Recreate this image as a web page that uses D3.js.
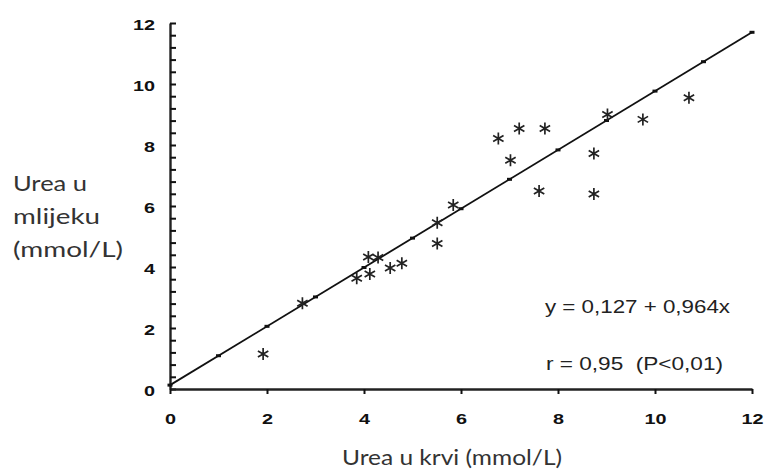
<!DOCTYPE html>
<html>
<head>
<meta charset="utf-8">
<script src="https://cdn.jsdelivr.net/npm/d3@7"></script>
<style>
  body { margin: 0; background: #fff; }
  svg { display: block; }
</style>
</head>
<body>
<div id="chart"></div>
<script>
// measured points: blood urea (x) vs milk urea (y), mmol/L
const bloodUrea = [1.92, 2.73, 3.85, 4.09, 4.12, 4.29, 4.54, 4.78, 5.51, 5.51, 5.84, 6.77, 7.02, 7.20, 7.61, 7.73, 8.74, 8.74, 9.02, 9.75, 10.70];
const milkUrea  = [1.15, 2.81, 3.63, 4.33, 3.77, 4.31, 3.97, 4.12, 5.45, 4.77, 6.03, 8.21, 7.50, 8.54, 6.49, 8.54, 7.72, 6.39, 9.00, 8.84, 9.55];

// regression y = a + b*x, with a small mark at each whole unit
const intercept = 0.127;
const slope = 0.964;
const lineMarksX = [0, 1, 2, 3, 4, 5, 6, 7, 8, 9, 10, 11, 12];

const xTicks = [0, 2, 4, 6, 8, 10, 12];
const yTicks = [0, 2, 4, 6, 8, 10, 12];

const xTitle = "Urea u krvi (mmol/L)";
const yTitle = ["Urea u", "mlijeku", "(mmol/L)"];
const eqText = "y = 0,127 + 0,964x";
const rText = "r = 0,95  (P<0,01)";

const W = 765, H = 471;
const stretch = 1.32;   // the source picture is wider than it is tall

const svg = d3.select("#chart").append("svg")
  .attr("width", W)
  .attr("height", H);

const x = d3.scaleLinear().domain([0, 12]).range([170, 752]);
const y = d3.scaleLinear().domain([0, 12]).range([389, 23]);

// y axis: small ticks every 0.4, labels every 2, ticks inside
const yMinor = d3.range(31).map(i => i * 2 / 5);
const yAxis = d3.axisLeft(y)
  .tickValues(yMinor)
  .tickSizeInner(-6)
  .tickSizeOuter(0)
  .tickPadding(15)
  .tickFormat(d => yTicks.includes(d) ? d : "");

const gy = svg.append("g")
  .attr("transform", "translate(" + x(0) + ",0)")
  .call(yAxis);

const xAxis = d3.axisBottom(x)
  .tickValues(xTicks)
  .tickSizeInner(5)
  .tickSizeOuter(0)
  .tickPadding(19);

const gx = svg.append("g")
  .attr("transform", "translate(0," + y(0) + ")")
  .call(xAxis);

[gx, gy].forEach(g => {
  g.select(".domain").attr("stroke", "#222").attr("stroke-width", 2.4);
  g.selectAll(".tick line").attr("stroke", "#111").attr("stroke-width", 2);
  g.selectAll(".tick text")
    .attr("fill", "#111")
    .attr("font-family", "'Liberation Sans', Arial, sans-serif")
    .attr("font-weight", "bold")
    .attr("font-size", 15)
    .attr("x", function() { return (+d3.select(this).attr("x") || 0) / stretch; })
    .attr("transform", "scale(" + stretch + ",1)");
});
gy.selectAll(".tick text").attr("dy", "0.42em");

// regression line
svg.append("line")
  .attr("x1", x(0)).attr("y1", y(intercept))
  .attr("x2", x(12)).attr("y2", y(intercept + slope * 12))
  .attr("stroke", "#111")
  .attr("stroke-width", 1.8);

svg.append("g").selectAll("rect")
  .data(lineMarksX)
  .join("rect")
  .attr("x", d => x(d) - 2.5)
  .attr("y", d => y(intercept + slope * d) - 1.5)
  .attr("width", 5)
  .attr("height", 3)
  .attr("fill", "#111");

// asterisk markers
const asterisk = {
  draw(ctx, size) {
    const r = Math.sqrt(size) * 0.6;
    const t = r / 2, u = t * Math.sqrt(3);
    ctx.moveTo(0, r); ctx.lineTo(0, -r);
    ctx.moveTo(-u, -t); ctx.lineTo(u, t);
    ctx.moveTo(-u, t); ctx.lineTo(u, -t);
  }
};

svg.append("g").selectAll("path")
  .data(d3.range(bloodUrea.length))
  .join("path")
  .attr("transform", i => "translate(" + x(bloodUrea[i]) + "," + y(milkUrea[i]) + ")")
  .attr("d", d3.symbol().type(asterisk).size(100))
  .attr("fill", "none")
  .attr("stroke", "#222")
  .attr("stroke-width", 1.7);

// equation text
svg.append("text")
  .attr("x", 545).attr("y", 313)
  .attr("font-family", "'Liberation Sans', Arial, sans-serif")
  .attr("font-size", 18)
  .attr("fill", "#222")
  .attr("textLength", 185)
  .attr("lengthAdjust", "spacingAndGlyphs")
  .text(eqText);

svg.append("text")
  .attr("x", 546).attr("y", 369.5)
  .attr("font-family", "'Liberation Sans', Arial, sans-serif")
  .attr("font-size", 18)
  .attr("fill", "#222")
  .attr("textLength", 177)
  .attr("lengthAdjust", "spacingAndGlyphs")
  .style("white-space", "pre")
  .text(rText);

// axis titles
svg.append("text")
  .attr("x", 342).attr("y", 464.5)
  .attr("font-family", "Lato, 'Open Sans', sans-serif")
  .attr("font-size", 21)
  .attr("fill", "#333")
  .attr("textLength", 220)
  .attr("lengthAdjust", "spacingAndGlyphs")
  .text(xTitle);

const yTitleWidths = [74, 87, 110];
svg.append("g").selectAll("text")
  .data(yTitle)
  .join("text")
  .attr("x", 13)
  .attr("y", (d, i) => 190.5 + i * 33)
  .attr("font-family", "Lato, 'Open Sans', sans-serif")
  .attr("font-size", 21)
  .attr("fill", "#333")
  .attr("textLength", (d, i) => yTitleWidths[i])
  .attr("lengthAdjust", "spacingAndGlyphs")
  .text(d => d);
</script>
</body>
</html>
